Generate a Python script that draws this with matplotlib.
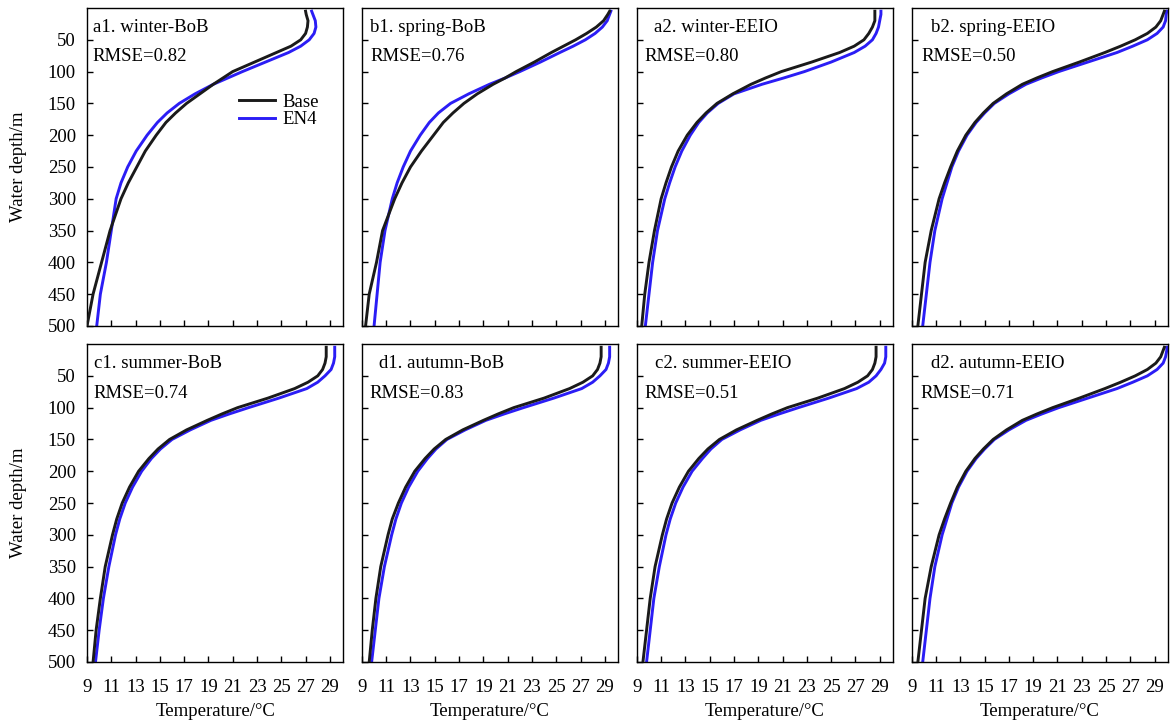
import matplotlib
matplotlib.use("Agg")
import matplotlib.pyplot as plt

plt.rcParams['font.family'] = ['Liberation Serif', 'DejaVu Serif']
plt.rcParams['font.size'] = 13.5

depth = [5, 10, 20, 30, 40, 50, 60, 70, 85, 100, 110, 120, 135, 150, 165, 180,
         200, 225, 250, 275, 300, 350, 400, 450, 500]

panel_titles = ["a1. winter-BoB", "b1. spring-BoB", "a2. winter-EEIO", "b2. spring-EEIO",
                "c1. summer-BoB", "d1. autumn-BoB", "c2. summer-EEIO", "d2. autumn-EEIO"]
rmse = ["0.82", "0.76", "0.80", "0.50", "0.74", "0.83", "0.51", "0.71"]

base_a1 = [27.0, 27.05, 27.2, 27.15, 27.0, 26.6, 25.8, 24.6, 22.8, 21.0, 20.2, 19.4, 18.3, 17.2, 16.3, 15.5,
           14.7, 13.8, 13.1, 12.4, 11.8, 10.9, 10.2, 9.5, 9.0]
en4_a1 = [27.5, 27.6, 27.8, 27.85, 27.7, 27.3, 26.6, 25.6, 23.7, 21.8, 20.6, 19.4, 17.9, 16.6, 15.6, 14.8,
          13.95, 13.05, 12.35, 11.8, 11.4, 11.0, 10.6, 10.1, 9.8]

base_b1 = [29.4, 29.25, 28.9, 28.3, 27.5, 26.6, 25.6, 24.6, 23.2, 21.7, 20.8, 19.8, 18.5, 17.4, 16.5, 15.7,
           14.9, 13.9, 13.0, 12.3, 11.7, 10.7, 10.2, 9.6, 9.3]
en4_b1 = [29.5, 29.4, 29.2, 28.8, 28.2, 27.4, 26.4, 25.3, 23.7, 22.0, 20.8, 19.5, 17.8, 16.3, 15.3, 14.55,
          13.8, 13.0, 12.4, 11.9, 11.5, 10.9, 10.5, 10.25, 10.0]

base_a2 = [28.6, 28.6, 28.6, 28.4, 28.1, 27.7, 26.9, 25.7, 23.4, 20.9, 19.6, 18.4, 16.9, 15.6, 14.7, 13.95,
           13.15, 12.4, 11.85, 11.4, 11.0, 10.45, 10.0, 9.65, 9.4]
en4_a2 = [29.1, 29.1, 29.0, 28.9, 28.7, 28.4, 27.8, 26.9, 25.0, 22.8, 21.1, 19.3, 17.0, 15.7, 14.8, 14.1,
          13.4, 12.7, 12.15, 11.7, 11.3, 10.7, 10.3, 10.0, 9.7]

base_b2 = [29.8, 29.7, 29.5, 29.1, 28.4, 27.4, 26.2, 24.9, 22.8, 20.6, 19.3, 18.1, 16.8, 15.7, 14.9, 14.2,
           13.45, 12.75, 12.2, 11.7, 11.25, 10.6, 10.1, 9.8, 9.5]
en4_b2 = [30.0, 29.95, 29.9, 29.7, 29.2, 28.4, 27.2, 25.9, 23.5, 21.1, 19.7, 18.4, 17.0, 15.8, 15.0, 14.3,
          13.55, 12.85, 12.3, 11.9, 11.5, 10.9, 10.5, 10.2, 9.9]

base_c1 = [28.7, 28.7, 28.7, 28.6, 28.4, 28.0, 27.2, 26.1, 23.9, 21.4, 20.1, 18.9, 17.2, 15.8, 14.85, 14.1,
           13.25, 12.5, 11.9, 11.45, 11.1, 10.5, 10.1, 9.75, 9.5]
en4_c1 = [29.4, 29.4, 29.4, 29.3, 29.1, 28.6, 28.0, 27.1, 24.8, 22.3, 20.7, 19.2, 17.5, 16.0, 15.05, 14.3,
          13.5, 12.75, 12.15, 11.7, 11.35, 10.8, 10.35, 10.0, 9.7]

base_d1 = [28.7, 28.7, 28.7, 28.6, 28.4, 28.0, 27.2, 26.1, 24.0, 21.5, 20.2, 19.0, 17.3, 15.9, 14.95, 14.2,
           13.35, 12.6, 12.0, 11.5, 11.15, 10.55, 10.15, 9.85, 9.6]
en4_d1 = [29.4, 29.4, 29.4, 29.3, 29.1, 28.6, 28.0, 27.1, 24.8, 22.3, 20.7, 19.2, 17.5, 16.0, 15.1, 14.4,
          13.6, 12.85, 12.25, 11.8, 11.45, 10.85, 10.4, 10.1, 9.8]

base_c2 = [28.7, 28.7, 28.7, 28.6, 28.4, 28.0, 27.2, 26.1, 23.9, 21.4, 20.1, 18.9, 17.2, 15.8, 14.85, 14.1,
           13.25, 12.5, 11.9, 11.45, 11.1, 10.5, 10.1, 9.8, 9.5]
en4_c2 = [29.5, 29.5, 29.5, 29.4, 29.1, 28.7, 28.1, 27.1, 24.8, 22.3, 20.7, 19.2, 17.5, 16.0, 15.1, 14.4,
          13.55, 12.8, 12.2, 11.75, 11.4, 10.85, 10.4, 10.1, 9.8]

base_d2 = [29.8, 29.7, 29.5, 29.1, 28.4, 27.4, 26.2, 24.9, 22.8, 20.6, 19.3, 18.1, 16.8, 15.7, 14.9, 14.2,
           13.45, 12.75, 12.2, 11.7, 11.25, 10.6, 10.1, 9.8, 9.5]
en4_d2 = [30.0, 30.0, 29.9, 29.7, 29.2, 28.4, 27.2, 25.9, 23.5, 21.1, 19.7, 18.4, 17.0, 15.8, 15.0, 14.3,
          13.55, 12.85, 12.3, 11.9, 11.5, 10.9, 10.5, 10.2, 9.9]

base_all = [base_a1, base_b1, base_a2, base_b2, base_c1, base_d1, base_c2, base_d2]
en4_all = [en4_a1, en4_b1, en4_a2, en4_b2, en4_c1, en4_d1, en4_c2, en4_d2]

xticks = list(range(9, 30, 2))
yticks = list(range(50, 501, 50))

title_x = [0.023, 0.031, 0.066, 0.074, 0.027, 0.066, 0.070, 0.074]
rmse_x = [0.023, 0.035, 0.031, 0.039, 0.027, 0.031, 0.031, 0.035]

fig, axes = plt.subplots(2, 4, figsize=(11.7, 7.25), dpi=100)
fig.subplots_adjust(left=87/1170, right=1168/1170, top=1-8/725, bottom=1-662/725,
                    wspace=0.073, hspace=0.057)

for i, ax in enumerate(axes.flat):
    ax.plot(base_all[i], depth, color='#1a1a1a', lw=2.1, label='Base', zorder=3,
            solid_joinstyle='round')
    ax.plot(en4_all[i], depth, color='#2b1df5', lw=2.1, label='EN4', zorder=2,
            solid_joinstyle='round')
    ax.set_xlim(9, 30.1)
    ax.set_ylim(500, 0)
    ax.set_xticks(xticks)
    ax.set_yticks(yticks)
    ax.tick_params(direction='in', length=4, width=1, labelsize=13.5, top=False, right=False)
    ax.tick_params(axis='x', pad=12)
    ax.tick_params(axis='y', pad=8)
    for s in ax.spines.values():
        s.set_linewidth(1.0)
    r, c = divmod(i, 4)
    if c != 0:
        ax.set_yticklabels([])
    else:
        ax.set_ylabel('Water depth/m', fontsize=13.5)
        ax.yaxis.set_label_coords(-0.235, 0.5)
    if r != 1:
        ax.set_xticklabels([])
    else:
        ax.set_xlabel('Temperature/°C', fontsize=13.5)
        ax.xaxis.set_label_coords(0.5, -0.128)
    ax.text(title_x[i], 0.94, panel_titles[i], transform=ax.transAxes,
            ha='left', va='center', fontsize=13.5)
    ax.text(rmse_x[i], 0.846, 'RMSE=' + rmse[i], transform=ax.transAxes,
            ha='left', va='center', fontsize=13.5)

axes[0, 0].legend(loc='center left', bbox_to_anchor=(0.595, 0.676), frameon=False,
                  borderpad=0, borderaxespad=0, handlelength=1.9, handletextpad=0.4,
                  labelspacing=0.0, fontsize=13.5)

fig.savefig('out.png', dpi=100)
